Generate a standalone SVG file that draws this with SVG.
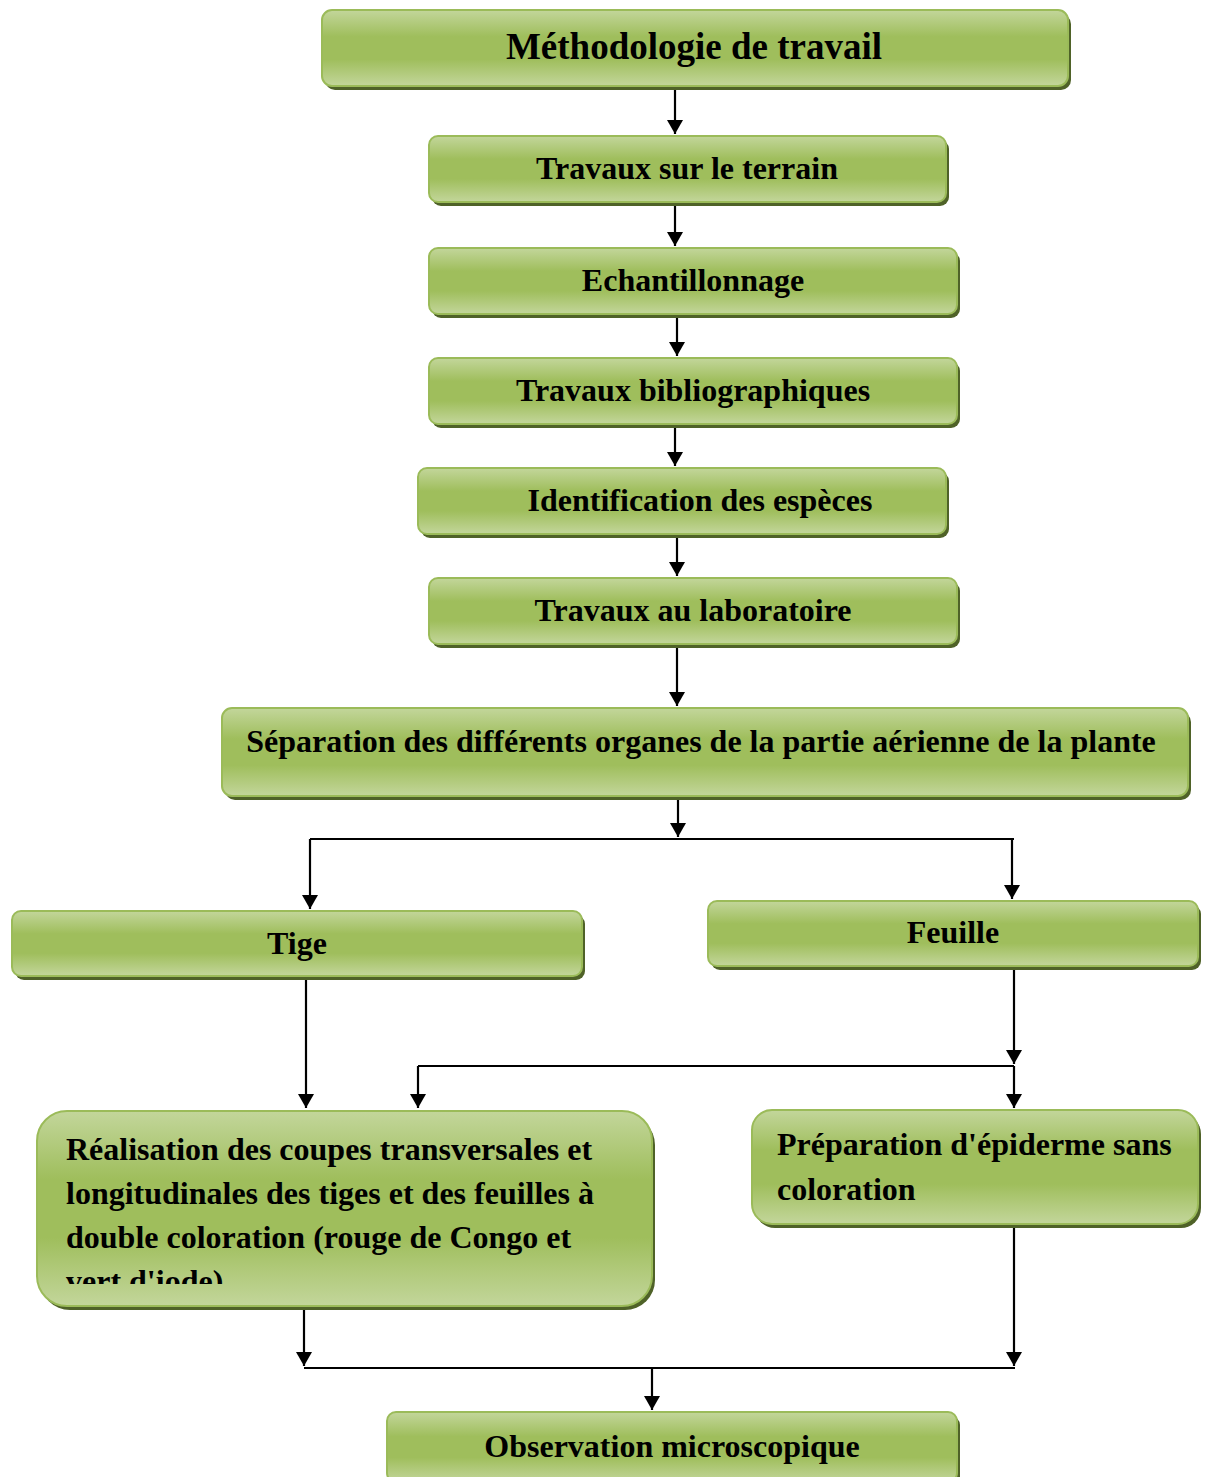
<svg xmlns="http://www.w3.org/2000/svg" width="1205" height="1477" viewBox="0 0 1205 1477">
<style>
.box{fill:url(#g);stroke:#9bbb59;stroke-width:2}
.sh{fill:#4f6228}
.t{font-family:"Liberation Serif","Times New Roman",serif;font-weight:bold;font-size:32px;fill:#000}
.c{text-anchor:middle}
.ln{stroke:#000;stroke-width:2.2;fill:none}
.ar{stroke:#000;stroke-width:2.2;fill:none;marker-end:url(#a)}
</style>
<defs>
<linearGradient id="g" x1="0" y1="0" x2="0" y2="1">
<stop offset="0" stop-color="#c3d69b"/>
<stop offset="0.35" stop-color="#9fbe5c"/>
<stop offset="0.65" stop-color="#9fbe5c"/>
<stop offset="1" stop-color="#c3d69b"/>
</linearGradient>
<marker id="a" viewBox="0 0 14 16" refX="14" refY="8" markerWidth="14" markerHeight="16" markerUnits="userSpaceOnUse" orient="auto">
<path d="M0,0 L14,8 L0,16 Z" fill="#000"/>
</marker>
<clipPath id="clipR"><rect x="37" y="1111" width="615" height="173"/></clipPath>
</defs>
<g id="connectors">
<path class="ar" d="M675,90 V134"/>
<path class="ar" d="M675,206 V246"/>
<path class="ar" d="M677,318 V356"/>
<path class="ar" d="M675,428 V466"/>
<path class="ar" d="M677,538 V576"/>
<path class="ar" d="M677,648 V706"/>
<path class="ar" d="M678,800 V837"/>
<path class="ln" d="M310,839 H1014"/>
<path class="ar" d="M310,839 V909"/>
<path class="ar" d="M1012,839 V899"/>
<path class="ar" d="M306,980 V1108"/>
<path class="ar" d="M1014,970 V1064"/>
<path class="ln" d="M418,1066 H1014"/>
<path class="ar" d="M418,1066 V1108"/>
<path class="ar" d="M1014,1066 V1108"/>
<path class="ar" d="M304,1310 V1366"/>
<path class="ar" d="M1014,1228 V1366"/>
<path class="ln" d="M304,1368 H1015"/>
<path class="ar" d="M652,1368 V1410"/>
</g>
<g id="n1">
<rect class="sh" x="325" y="14" width="746" height="76" rx="10"/>
<rect class="box" x="322" y="10" width="746" height="76" rx="10"/>
<text class="t c" x="694" y="59" style="font-size:37px">Méthodologie de travail</text>
</g>
<g id="n2">
<rect class="sh" x="432" y="140" width="517" height="66" rx="9"/>
<rect class="box" x="429" y="136" width="517" height="66" rx="9"/>
<text class="t c" x="687" y="179">Travaux sur le terrain</text>
</g>
<g id="n3">
<rect class="sh" x="432" y="252" width="528" height="66" rx="9"/>
<rect class="box" x="429" y="248" width="528" height="66" rx="9"/>
<text class="t c" x="693" y="291">Echantillonnage</text>
</g>
<g id="n4">
<rect class="sh" x="432" y="362" width="528" height="66" rx="9"/>
<rect class="box" x="429" y="358" width="528" height="66" rx="9"/>
<text class="t c" x="693" y="401">Travaux bibliographiques</text>
</g>
<g id="n5">
<rect class="sh" x="421" y="472" width="528" height="66" rx="9"/>
<rect class="box" x="418" y="468" width="528" height="66" rx="9"/>
<text class="t c" x="700" y="511">Identification des espèces</text>
</g>
<g id="n6">
<rect class="sh" x="432" y="582" width="528" height="66" rx="9"/>
<rect class="box" x="429" y="578" width="528" height="66" rx="9"/>
<text class="t c" x="693" y="621">Travaux au laboratoire</text>
</g>
<g id="n7">
<rect class="sh" x="225" y="712" width="966" height="88" rx="10"/>
<rect class="box" x="222" y="708" width="966" height="88" rx="10"/>
<text class="t c" x="701" y="752">Séparation des différents organes de la partie aérienne de la plante</text>
</g>
<g id="n8">
<rect class="sh" x="15" y="915" width="570" height="65" rx="9"/>
<rect class="box" x="12" y="911" width="570" height="65" rx="9"/>
<text class="t c" x="297" y="954">Tige</text>
</g>
<g id="n9">
<rect class="sh" x="711" y="905" width="490" height="65" rx="9"/>
<rect class="box" x="708" y="901" width="490" height="65" rx="9"/>
<text class="t c" x="953" y="943">Feuille</text>
</g>
<g id="n10">
<rect class="sh" x="40" y="1115" width="615" height="195" rx="30"/>
<rect class="box" x="37" y="1111" width="615" height="195" rx="30"/>
<g clip-path="url(#clipR)">
<text class="t" x="66" y="1160">Réalisation des coupes transversales et</text>
<text class="t" x="66" y="1204">longitudinales des tiges et des feuilles à</text>
<text class="t" x="66" y="1248">double coloration (rouge de Congo et</text>
<text class="t" x="66" y="1292">vert d'iode)</text>
</g>
</g>
<g id="n11">
<rect class="sh" x="755" y="1114" width="446" height="114" rx="20"/>
<rect class="box" x="752" y="1110" width="446" height="114" rx="20"/>
<text class="t" x="777" y="1155">Préparation d'épiderme sans</text>
<text class="t" x="777" y="1200">coloration</text>
</g>
<g id="n12">
<rect class="sh" x="390" y="1416" width="570" height="70" rx="9"/>
<rect class="box" x="387" y="1412" width="570" height="70" rx="9"/>
<text class="t c" x="672" y="1457">Observation microscopique</text>
</g>
</svg>
